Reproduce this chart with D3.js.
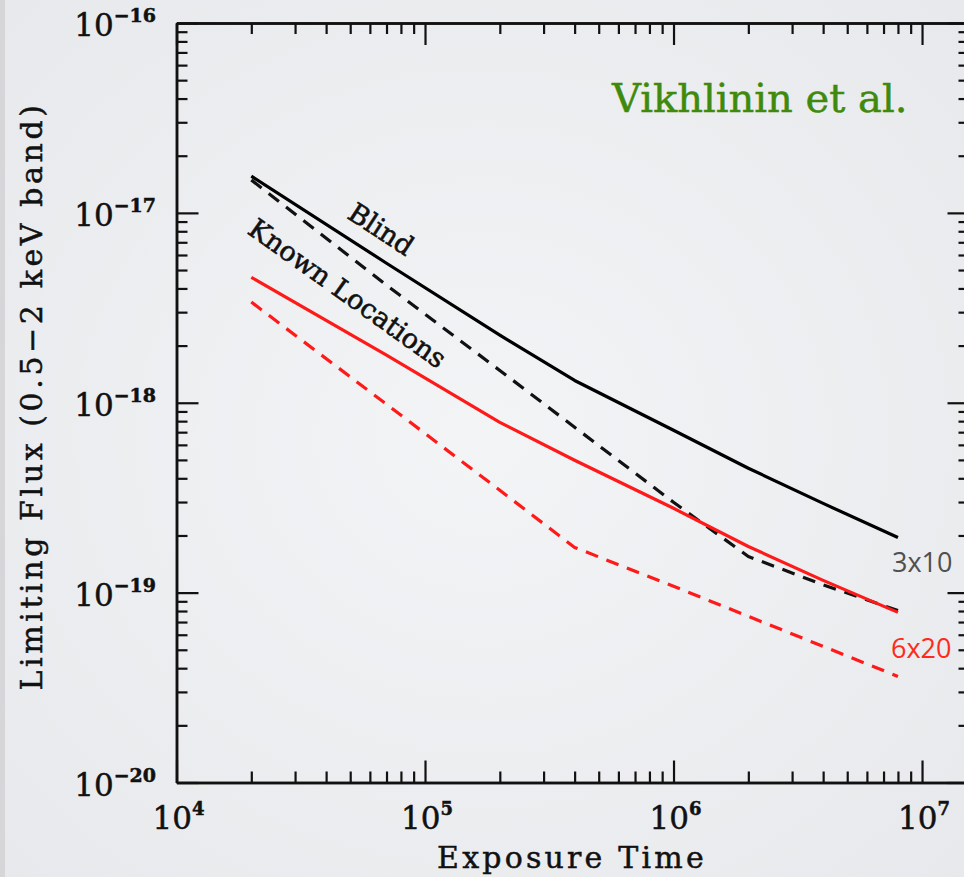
<!DOCTYPE html>
<html>
<head>
<meta charset="utf-8">
<script src="https://cdn.jsdelivr.net/npm/d3@7/dist/d3.min.js"></script>
<style>
  html, body { margin: 0; padding: 0; background: #eceef1; }
  svg { display: block; }
</style>
</head>
<body>
<svg id="chart" width="964" height="877"></svg>
<script>
// Exposure times (s) at which the limiting flux was computed
const exposure = [2e4, 7e4, 2e5, 4e5, 1e6, 2e6, 4e6, 8e6];

// Limiting flux, 0.5-2 keV band (erg/s/cm^2)
const blind3x10 = [1.56e-17, 5.43e-18, 2.27e-18, 1.31e-18, 7.16e-19, 4.52e-19, 2.95e-19, 1.95e-19];
const known3x10 = [1.49e-17, 4.16e-18, 1.48e-18, 7.43e-19, 2.99e-19, 1.55e-19, 1.10e-19, 8.05e-20];
const blind6x20 = [4.58e-18, 1.78e-18, 7.88e-19, 4.98e-19, 2.78e-19, 1.75e-19, 1.16e-19, 7.87e-20];
const known6x20 = [3.39e-18, 9.82e-19, 3.46e-19, 1.73e-19, 1.08e-19, 7.5e-20, 5.21e-20, 3.62e-20];

// Axis tick labels (exponents of ten)
const xTickExps = [4, 5, 6, 7];
const yTickExps = [-16, -17, -18, -19, -20];

const series = [
  { name: "3x10 blind", values: blind3x10, color: "#000000", dashed: false },
  { name: "3x10 known", values: known3x10, color: "#111111", dashed: true },
  { name: "6x20 blind", values: blind6x20, color: "#ff1a1a", dashed: false },
  { name: "6x20 known", values: known6x20, color: "#ff1a1a", dashed: true }
];

const W = 964, H = 877;
const svg = d3.select("#chart");

// background: soft grey with a gentle vignette
const defs = svg.append("defs");
const grad = defs.append("radialGradient").attr("id", "bg")
  .attr("cx", "50%").attr("cy", "50%").attr("r", "75%");
grad.append("stop").attr("offset", "0%").attr("stop-color", "#f3f4f6");
grad.append("stop").attr("offset", "100%").attr("stop-color", "#e7e8eb");
svg.append("rect").attr("width", W).attr("height", H).attr("fill", "url(#bg)");
svg.append("rect").attr("x", 0).attr("y", 0).attr("width", 5).attr("height", H).attr("fill", "#d6d6d8");

const plotL = 176.5, plotR = 969.5, plotT = 23, plotB = 782.5;
const x = d3.scaleLog().domain([1e4, Math.pow(10, 7.191)]).range([plotL, plotR]);
const y = d3.scaleLog().domain([1e-20, 1e-16]).range([plotB, plotT]);

const majorX = d3.range(4, 8).map(e => Math.pow(10, e));
const minorX = [];
for (let e = 4; e <= 7; e++) for (let m = 2; m <= 9; m++) {
  const v = m * Math.pow(10, e);
  if (v < x.domain()[1]) minorX.push(v);
}
const majorY = d3.range(-20, -15).map(e => Math.pow(10, e));
const minorY = [];
for (let e = -20; e < -16; e++) for (let m = 2; m <= 9; m++) minorY.push(m * Math.pow(10, e));

const axisStyle = g => {
  g.selectAll("path.domain").attr("stroke", "#111").attr("stroke-width", 2.5);
  g.selectAll(".tick line").attr("stroke", "#111").attr("stroke-width", 2.2);
  g.selectAll("text").remove();
};

function frameSide(axisFn, scale, minors, majors, transform) {
  const g = svg.append("g").attr("transform", transform);
  g.call(axisFn(scale).tickValues(minors).tickSizeInner(-11).tickSizeOuter(0).tickFormat("")).call(axisStyle);
  g.append("g").call(axisFn(scale).tickValues(majors).tickSizeInner(-22).tickSizeOuter(0).tickFormat("")).call(axisStyle);
}
frameSide(d3.axisBottom, x, minorX, majorX, `translate(0,${plotB})`);
frameSide(d3.axisTop, x, minorX, majorX, `translate(0,${plotT})`);
frameSide(d3.axisLeft, y, minorY, majorY, `translate(${plotL},0)`);
frameSide(d3.axisRight, y, minorY, majorY, `translate(${plotR},0)`);

const serif = "'DejaVu Serif', serif";
// slightly heavier serif text
const heavy = (sel, color, w) => sel.attr("fill", color).attr("stroke", color).attr("stroke-width", w);

// x tick labels: 10 with superscript exponent
xTickExps.forEach(e => {
  const t = svg.append("text")
    .attr("x", x(Math.pow(10, e)) + 2)
    .attr("y", 829)
    .attr("text-anchor", "middle")
    .attr("font-family", serif)
    .attr("font-size", 31)
    .call(heavy, "#111", 0.5);
  t.append("tspan").text("10");
  t.append("tspan").attr("font-size", 18).attr("font-weight", "bold").attr("dy", -14).text(e);
});

// y tick labels
yTickExps.forEach(e => {
  const t = svg.append("text")
    .attr("x", 156)
    .attr("y", y(Math.pow(10, e)) + 13)
    .attr("text-anchor", "end")
    .attr("font-family", serif)
    .attr("font-size", 31)
    .call(heavy, "#111", 0.5);
  t.append("tspan").text("10");
  t.append("tspan").attr("font-size", 19).attr("font-weight", "bold").attr("dy", -14)
    .text("\u2212" + Math.abs(e));
});

// axis titles
svg.append("text")
  .attr("x", 572).attr("y", 868)
  .attr("text-anchor", "middle")
  .attr("font-family", serif)
  .attr("font-size", 30)
  .attr("letter-spacing", 3.2)
  .call(heavy, "#111", 0.5)
  .text("Exposure Time");

svg.append("text")
  .attr("transform", "translate(42,396) rotate(-90)")
  .attr("text-anchor", "middle")
  .attr("font-family", serif)
  .attr("font-size", 30)
  .attr("letter-spacing", 3.6)
  .call(heavy, "#111", 0.5)
  .text("Limiting Flux (0.5\u22122 keV band)");

// curves
const line = d3.line().x(d => x(d[0])).y(d => y(d[1]));
series.forEach(s => {
  svg.append("path")
    .datum(exposure.map((t, i) => [t, s.values[i]]))
    .attr("d", line)
    .attr("fill", "none")
    .attr("stroke", s.color)
    .attr("stroke-width", 3.2)
    .attr("stroke-linejoin", "round")
    .attr("stroke-dasharray", s.dashed ? "13,9" : null);
});

// curve annotations
svg.append("text")
  .attr("transform", "translate(376,237) rotate(33)")
  .attr("text-anchor", "middle")
  .attr("font-family", serif)
  .attr("font-size", 27)
  .call(heavy, "#111", 0.6)
  .text("Blind");

svg.append("text")
  .attr("transform", "translate(342,301) rotate(35.5)")
  .attr("text-anchor", "middle")
  .attr("font-family", serif)
  .attr("font-size", 27)
  .call(heavy, "#111", 0.6)
  .text("Known Locations");

// grid-size labels
svg.append("text")
  .attr("x", 892).attr("y", 572)
  .attr("font-family", "'Open Sans', sans-serif")
  .attr("font-size", 27)
  .attr("fill", "#505050")
  .text("3x10");

svg.append("text")
  .attr("x", 891).attr("y", 658)
  .attr("font-family", "'Open Sans', sans-serif")
  .attr("font-size", 27)
  .attr("fill", "#ff2a1a")
  .text("6x20");

// credit
svg.append("text")
  .attr("x", 612).attr("y", 112)
  .attr("font-family", serif)
  .attr("font-size", 40)
  .call(heavy, "#3f8a0c", 0.5)
  .text("Vikhlinin et al.");
</script>
</body>
</html>
